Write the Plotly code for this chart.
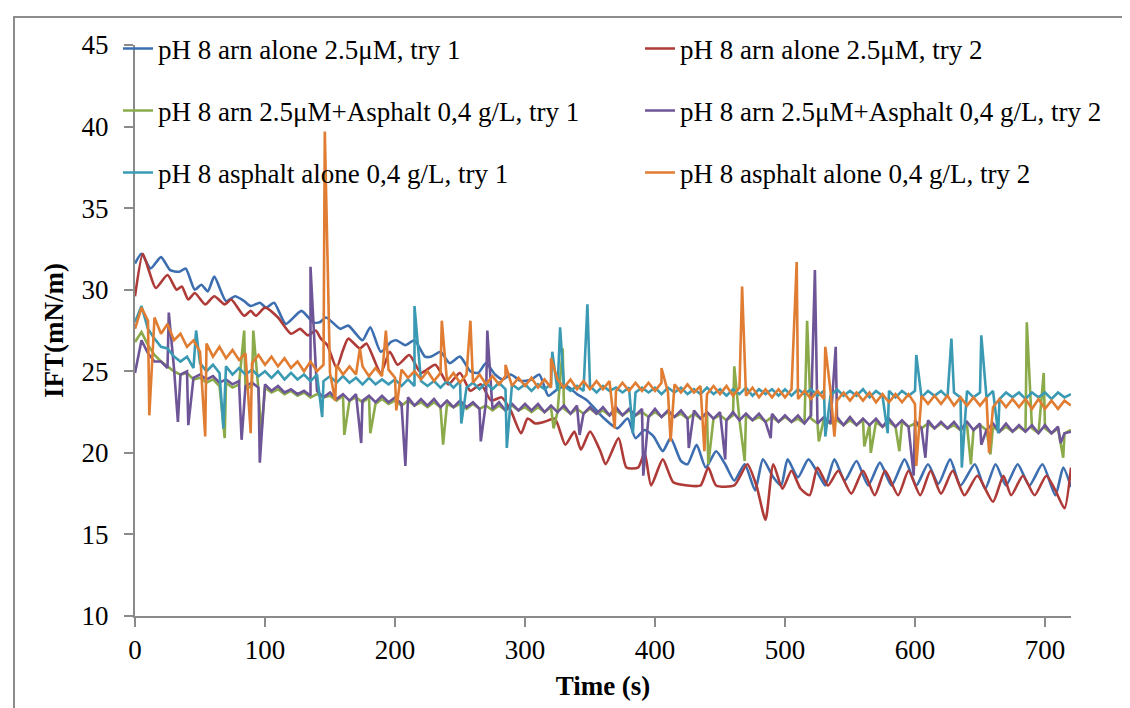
import plotly.graph_objects as go

# ---------------- data ----------------
t_arn1 = [0, 5, 12, 20, 27, 34, 39, 46, 51, 56, 61, 70, 77, 84, 89, 96, 101, 107, 116, 128,
          137, 142, 147, 158, 164, 175, 181, 189, 197, 201, 208, 215, 223, 228, 235, 242, 250, 258, 264, 270,
          277, 283, 289, 297, 305, 311, 318, 325, 332, 340, 348, 355, 361, 371, 379, 385, 392, 399, 406, 412,
          420, 425, 432, 439, 447, 454, 461, 469, 477, 483, 491, 497, 502, 510, 518, 527, 531, 538, 546, 555,
          564, 573, 582, 592, 601, 610, 618, 627, 635, 646, 654, 662, 670, 679, 688, 698, 708, 714, 720]
ift_arn1 = [31.6, 32.2, 31.3, 32.0, 31.2, 31.1, 31.3, 30.0, 30.3, 29.9, 30.8, 29.3, 29.6, 29.3, 29.0, 29.2, 28.9, 29.2, 27.9, 28.7,
            28.0, 28.0, 28.3, 27.6, 27.8, 26.9, 27.7, 26.2, 26.8, 26.9, 26.6, 26.9, 25.9, 25.9, 26.2, 25.5, 25.9, 25.0, 24.9, 25.5,
            24.8, 24.5, 24.8, 24.4, 24.5, 24.8, 23.5, 23.9, 24.1, 23.6, 23.2, 22.6, 22.1, 21.5, 22.1, 20.9, 21.4, 21.0, 20.1, 20.9,
            19.5, 19.3, 20.5, 19.1, 20.1, 19.3, 18.3, 19.3, 17.7, 19.6, 18.5, 18.0, 19.6, 18.5, 19.6, 18.5, 18.0, 19.6, 18.3, 19.5,
            18.0, 19.4, 18.0, 19.6, 18.0, 19.3, 18.1, 19.6, 18.0, 19.3, 17.8, 19.3, 18.0, 19.3, 18.0, 19.3, 17.4, 19.1, 17.9]

t_arn2 = [0, 6, 11, 16, 25, 32, 36, 41, 46, 54, 61, 69, 74, 84, 89, 93, 100, 110, 120, 127,
          133, 139, 143, 148, 155, 160, 164, 173, 178, 189, 196, 202, 211, 220, 231, 241, 250, 258, 266, 274,
          282, 289, 297, 302, 308, 315, 323, 331, 338, 343, 350, 358, 362, 372, 378, 387, 392, 397, 406, 414,
          425, 435, 441, 447, 461, 471, 478, 485, 491, 498, 505, 512, 519, 525, 533, 541, 551, 560, 569, 577,
          587, 595, 604, 612, 620, 629, 638, 648, 660, 668, 674, 683, 692, 701, 708, 715, 720]
ift_arn2 = [29.6, 32.2, 31.1, 30.1, 30.9, 30.0, 30.2, 29.4, 29.8, 29.1, 29.6, 29.1, 29.4, 28.4, 28.7, 28.4, 28.9, 28.3, 27.3, 27.6,
            27.2, 27.5, 27.0, 26.6, 25.2, 26.3, 27.0, 26.4, 26.7, 24.9, 26.2, 25.4, 26.0, 24.9, 25.4, 24.2, 24.9, 23.8, 24.2, 23.2,
            23.4, 22.6, 21.2, 22.1, 21.8, 21.9, 22.1, 20.5, 21.3, 20.2, 21.3, 20.1, 19.3, 20.9, 19.1, 19.1, 20.0, 18.0, 19.6, 18.2,
            18.0, 18.0, 19.1, 18.0, 18.0, 19.3, 18.0, 15.9, 19.3, 17.8, 18.9, 17.8, 17.4, 19.1, 18.0, 18.9, 17.5, 18.9, 17.4, 18.9,
            17.4, 18.9, 17.4, 18.9, 17.5, 18.9, 17.4, 18.6, 17.0, 18.6, 17.4, 18.6, 17.4, 18.6, 17.7, 16.6, 19.1]

# noisy series: base readings every 5 s (0..720) plus isolated spike readings (time, value)
t_grid = list(range(0, 721, 5))

ift_mix1 = [26.8, 27.4, 26.6, 26.0, 25.6, 25.3, 25.0, 24.8, 24.9, 24.5,
            24.6, 24.3, 24.5, 24.1, 24.3, 24.0, 24.2, 23.9, 24.1, 23.8,
            24.0, 23.7, 23.9, 23.6, 23.8, 23.5, 23.7, 23.4, 23.6, 23.4,
            23.5, 23.2, 23.5, 23.2, 23.4, 23.1, 23.4, 23.0, 23.3, 23.0,
            23.2, 22.9, 23.2, 22.9, 23.1, 22.8, 23.1, 22.8, 23.0, 22.8,
            23.0, 22.7, 23.0, 22.7, 22.9, 22.6, 22.9, 22.6, 22.9, 22.6,
            22.8, 22.5, 22.8, 22.5, 22.8, 22.5, 22.7, 22.4, 22.7, 22.4,
            22.7, 22.4, 22.6, 22.3, 22.6, 22.3, 22.6, 22.3, 22.5, 22.2,
            22.5, 22.2, 22.5, 22.2, 22.4, 22.1, 22.4, 22.1, 22.4, 22.1,
            22.3, 22.0, 22.3, 22.0, 22.3, 22.0, 22.2, 21.9, 22.2, 21.9,
            22.2, 21.9, 22.1, 21.8, 22.1, 21.8, 22.1, 21.8, 22.0, 21.7,
            22.0, 21.7, 22.0, 21.7, 21.9, 21.6, 21.9, 21.6, 21.9, 21.6,
            21.8, 21.5, 21.8, 21.5, 21.8, 21.5, 21.7, 21.4, 21.7, 21.4,
            21.7, 21.4, 21.6, 21.3, 21.6, 21.3, 21.6, 21.3, 21.5, 21.2,
            21.5, 21.2, 21.5, 21.2, 21.4]
spikes_mix1 = [(84, 27.5), (91, 27.5), (69, 20.9), (97, 21.1), (161, 21.1), (181, 21.2), (237, 20.5),
               (322, 21.5), (329, 26.4), (441, 19.3), (461, 25.3), (469, 19.5), (517, 28.1), (526, 20.7),
               (561, 20.4), (566, 20.0), (588, 20.1), (643, 19.3), (658, 19.9), (686, 28.0), (699, 24.9),
               (714, 19.7)]

ift_mix2 = [24.9, 26.9, 26.1, 25.6, 25.6, 25.2, 25.2, 24.8, 25.0, 24.6,
            24.8, 24.5, 24.7, 24.3, 24.5, 24.2, 24.4, 24.1, 24.3, 24.0,
            24.2, 23.8, 24.1, 23.7, 23.9, 23.6, 23.8, 23.5, 23.8, 23.4,
            23.7, 23.3, 23.6, 23.2, 23.6, 23.2, 23.5, 23.1, 23.5, 23.1,
            23.4, 23.0, 23.4, 22.9, 23.3, 22.9, 23.3, 22.8, 23.2, 22.8,
            23.2, 22.8, 23.1, 22.7, 23.1, 22.7, 23.1, 22.6, 23.0, 22.6,
            23.0, 22.6, 23.0, 22.5, 22.9, 22.5, 22.9, 22.4, 22.9, 22.4,
            22.8, 22.4, 22.8, 22.3, 22.8, 22.3, 22.7, 22.3, 22.7, 22.2,
            22.7, 22.2, 22.6, 22.2, 22.6, 22.1, 22.6, 22.1, 22.5, 22.1,
            22.5, 22.0, 22.5, 22.0, 22.4, 22.0, 22.4, 21.9, 22.4, 21.9,
            22.3, 21.9, 22.3, 21.8, 22.3, 21.8, 22.2, 21.8, 22.2, 21.7,
            22.2, 21.7, 22.1, 21.7, 22.1, 21.6, 22.1, 21.6, 22.0, 21.6,
            22.0, 21.5, 22.0, 21.5, 21.9, 21.5, 21.9, 21.4, 21.9, 21.4,
            21.8, 21.4, 21.8, 21.3, 21.8, 21.3, 21.7, 21.3, 21.7, 21.2,
            21.7, 21.2, 21.6, 21.2, 21.3]
spikes_mix2 = [(26, 28.6), (33, 21.9), (41, 21.7), (82, 20.8), (96, 19.4), (135, 31.4), (174, 20.6),
               (208, 19.2), (266, 20.7), (271, 27.5), (342, 21.1), (391, 18.6), (426, 20.3), (454, 19.6),
               (489, 20.9), (523, 31.2), (539, 26.5), (599, 18.6), (608, 19.7), (651, 20.5), (712, 20.6)]

ift_asph1 = [28.0, 29.0, 27.6, 27.0, 26.5, 26.4, 25.9, 25.6, 25.9, 25.2,
             25.5, 25.0, 25.4, 24.9, 25.3, 24.8, 25.2, 24.8, 25.1, 24.7,
             25.0, 24.6, 25.0, 24.5, 24.9, 24.5, 24.8, 24.4, 24.8, 24.4,
             24.7, 24.3, 24.7, 24.3, 24.6, 24.2, 24.6, 24.2, 24.5, 24.2,
             24.5, 24.1, 24.5, 24.1, 24.4, 24.1, 24.4, 24.0, 24.4, 24.0,
             24.4, 24.0, 24.3, 23.9, 24.3, 23.9, 24.3, 23.9, 24.2, 23.9,
             24.2, 23.8, 24.2, 23.9, 24.2, 23.8, 24.1, 23.8, 24.1, 23.8,
             24.1, 23.7, 24.1, 23.8, 24.0, 23.7, 24.0, 23.7, 24.0, 23.7,
             24.0, 23.6, 24.0, 23.7, 24.0, 23.6, 23.9, 23.6, 24.0, 23.6,
             23.9, 23.5, 23.9, 23.6, 24.0, 23.5, 23.9, 23.6, 23.9, 23.5,
             23.9, 23.5, 23.9, 23.6, 23.9, 23.5, 23.8, 23.5, 23.9, 23.5,
             23.8, 23.5, 23.9, 23.4, 23.8, 23.5, 23.8, 23.4, 23.8, 23.5,
             23.8, 23.4, 23.8, 23.5, 23.8, 23.4, 23.7, 23.4, 23.8, 23.4,
             23.7, 23.4, 23.8, 23.3, 23.7, 23.4, 23.7, 23.3, 23.7, 23.4,
             23.7, 23.3, 23.7, 23.4, 23.6]
spikes_asph1 = [(47, 27.5), (68, 21.5), (144, 22.2), (215, 29.0), (251, 21.8), (286, 20.3), (321, 26.2),
                (327, 27.7), (348, 29.1), (383, 21.2), (531, 21.0), (579, 21.2), (601, 26.0), (628, 27.0),
                (636, 19.1), (651, 27.2), (664, 21.2)]

ift_asph2 = [27.6, 28.9, 28.1, 28.3, 27.3, 27.9, 26.9, 27.3, 26.5, 26.9,
             26.2, 26.7, 25.9, 26.5, 25.8, 26.3, 25.7, 26.1, 25.5, 26.0,
             25.4, 25.9, 25.3, 25.8, 25.2, 25.6, 25.0, 25.6, 25.0, 25.4,
             24.9, 25.4, 24.8, 25.3, 24.8, 25.3, 24.7, 25.2, 24.7, 25.1,
             24.6, 25.1, 24.6, 25.0, 24.5, 25.0, 24.4, 24.9, 24.4, 24.9,
             24.3, 24.8, 24.3, 24.8, 24.2, 24.7, 24.2, 24.7, 24.1, 24.6,
             24.1, 24.6, 24.0, 24.5, 24.0, 24.5, 24.0, 24.5, 23.9, 24.4,
             23.9, 24.4, 23.9, 24.4, 23.8, 24.3, 23.8, 24.3, 23.8, 24.3,
             23.8, 24.3, 23.7, 24.2, 23.7, 24.2, 23.7, 24.1, 23.6, 24.1,
             23.6, 24.1, 23.5, 24.0, 23.5, 24.0, 23.4, 23.9, 23.4, 23.9,
             23.4, 23.9, 23.3, 23.8, 23.3, 23.8, 23.3, 23.8, 23.2, 23.7,
             23.2, 23.7, 23.2, 23.7, 23.1, 23.6, 23.1, 23.6, 23.1, 23.6,
             23.0, 23.5, 23.0, 23.5, 23.0, 23.5, 22.9, 23.4, 22.9, 23.4,
             22.9, 23.4, 22.8, 23.3, 22.8, 23.3, 22.8, 23.3, 22.7, 23.3,
             22.7, 23.2, 22.7, 23.2, 22.9]
spikes_asph2 = [(11, 22.3), (54, 21.0), (89, 21.2), (146, 39.7), (154, 23.2), (173, 26.4), (193, 27.5),
                (201, 22.6), (236, 28.1), (258, 28.1), (285, 25.4), (320, 25.8), (369, 21.5), (405, 25.2),
                (412, 20.7), (438, 20.1), (467, 30.2), (509, 31.7), (531, 26.5), (538, 21.0), (601, 19.2),
                (657, 20.0)]

names = ["pH 8 arn alone 2.5μM, try 1",
         "pH 8 arn alone 2.5μM, try 2",
         "pH 8 arn 2.5μM+Asphalt 0,4 g/L, try 1",
         "pH 8 arn 2.5μM+Asphalt 0,4 g/L, try 2",
         "pH 8 asphalt alone 0,4 g/L, try 1",
         "pH 8 asphalt alone 0,4 g/L, try 2"]
colors = ["#3D6FB0", "#AE3B38", "#8BAA4A", "#6E5597", "#3A9AB4", "#E07D32"]


def merge(grid, values, spikes):
    pts = sorted(list(zip(grid, values)) + list(spikes))
    return [p[0] for p in pts], [p[1] for p in pts]


series = [
    (t_arn1, ift_arn1, "spline"),
    (t_arn2, ift_arn2, "spline"),
    (*merge(t_grid, ift_mix1, spikes_mix1), "linear"),
    (*merge(t_grid, ift_mix2, spikes_mix2), "linear"),
    (*merge(t_grid, ift_asph1, spikes_asph1), "linear"),
    (*merge(t_grid, ift_asph2, spikes_asph2), "linear"),
]

FONT = "Liberation Serif"
FS = 27
AXIS_GRAY = "#8a8a8a"

W, H = 1130, 708
L, R, T, B = 127, 67, 37, 100
pw, ph = W - L - R, H - T - B


def px_x(px):
    return (px - L) / pw


def px_y(py):
    return (H - B - py) / ph


fig = go.Figure()
legend_layout = {}
# legend grid: two columns, three rows (text left edges at ~160 px and ~680 px)
leg_cols = [110, 632]
leg_rows = [41, 103, 165]
for i, ((tx, vy, shape), name, col) in enumerate(zip(series, names, colors)):
    lid = "legend" if i == 0 else f"legend{i + 1}"
    fig.add_trace(go.Scatter(x=tx, y=vy, mode="lines", name=name, legend=lid,
                             line=dict(color=col, width=2.6, shape=shape, smoothing=0.6)))
    legend_layout[lid] = dict(orientation="h", xref="container", yref="container",
                              x=leg_cols[i % 2] / W, y=1 - leg_rows[i // 2] / H,
                              xanchor="left", yanchor="middle",
                              bgcolor="rgba(0,0,0,0)", borderwidth=0,
                              font=dict(family=FONT, size=FS, color="black"),
                              itemwidth=30)

fig.update_layout(
    width=W, height=H,
    margin=dict(l=L, r=R, t=T, b=B, pad=0, autoexpand=False),
    paper_bgcolor="white", plot_bgcolor="white",
    font=dict(family=FONT, size=FS, color="black"),
    showlegend=True,
    xaxis=dict(range=[0, 720], tickvals=[0, 100, 200, 300, 400, 500, 600, 700],
               showline=True, linecolor=AXIS_GRAY, linewidth=2, mirror=False,
               ticks="outside", ticklen=9, tickwidth=2, tickcolor=AXIS_GRAY,
               showgrid=False, zeroline=False,
               tickfont=dict(family=FONT, size=FS, color="black"),
               title=dict(text="<b>Time (s)</b>", font=dict(family=FONT, size=FS, color="black"),
                          standoff=12)),
    yaxis=dict(range=[10, 45], tickvals=[10, 15, 20, 25, 30, 35, 40, 45],
               showline=True, linecolor=AXIS_GRAY, linewidth=2,
               ticks="outside", ticklen=9, tickwidth=2, tickcolor=AXIS_GRAY,
               showgrid=False, zeroline=False, ticklabelstandoff=10,
               tickfont=dict(family=FONT, size=FS, color="black"),
               title=dict(text="<b>IFT(mN/m)</b>", font=dict(family=FONT, size=FS, color="black"),
                          standoff=10)),
    shapes=[dict(type="rect", xref="paper", yref="paper", layer="below",
                 x0=px_x(6), x1=px_x(1125), y0=px_y(720), y1=px_y(9),
                 line=dict(color="#8c8c8c", width=2), fillcolor="rgba(0,0,0,0)")],
    **legend_layout,
)

fig.write_html("out.html")
